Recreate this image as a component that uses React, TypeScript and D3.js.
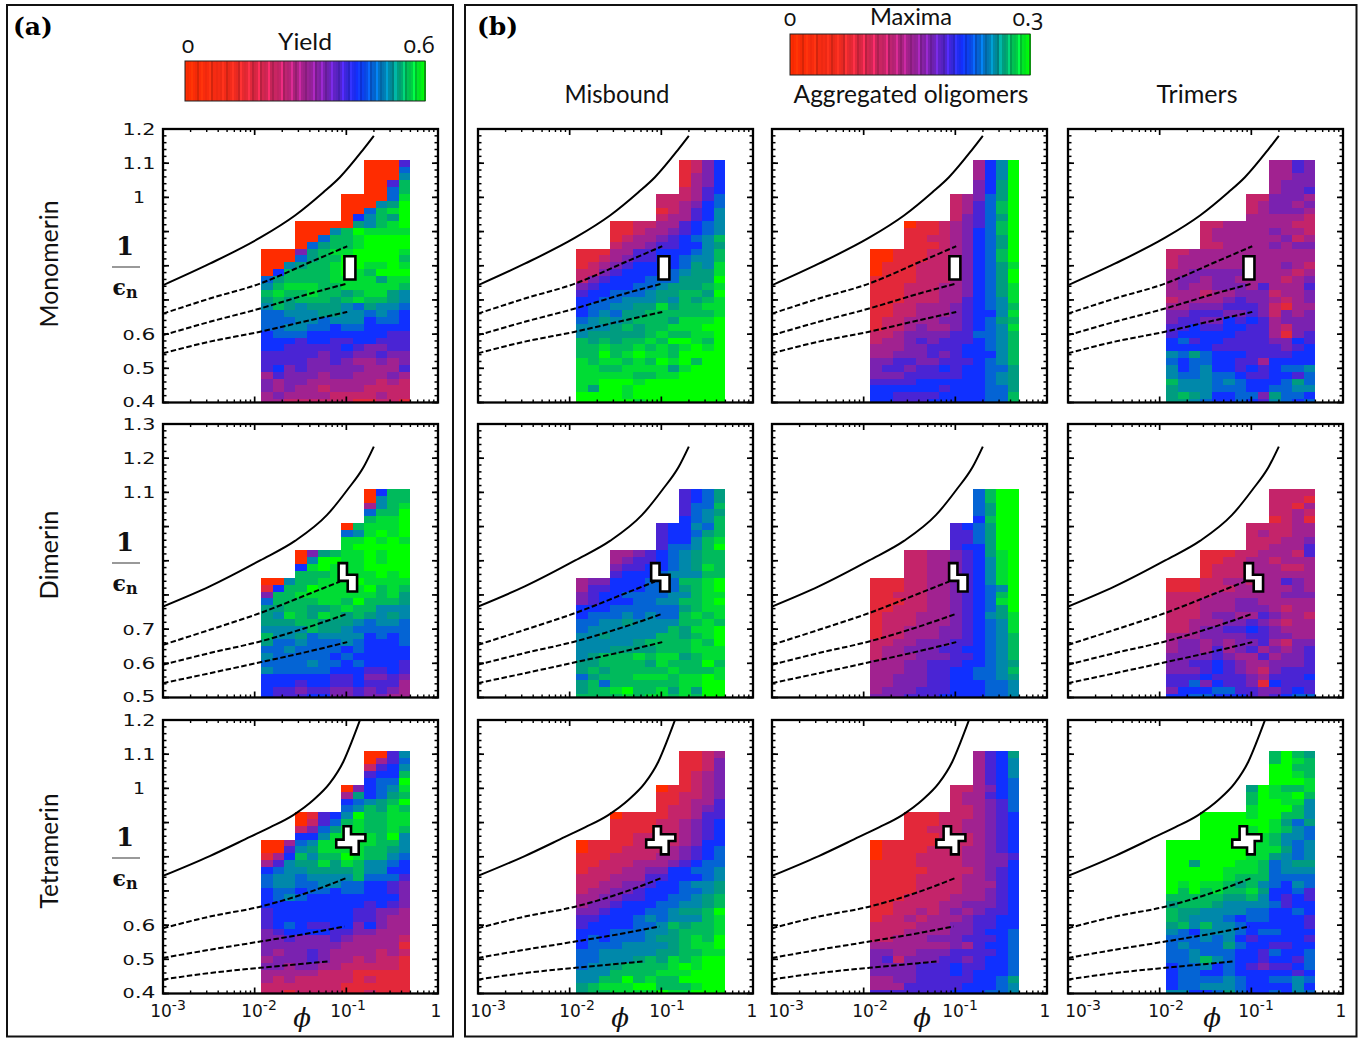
import React from "react";
import * as d3 from "d3";

// ---------- heat-map levels (0 red ... c green), rows top to bottom, '.' = no data
const yieldMono = [
".........0005",".........0007",".........0008",".........005a",".........007a",
".......00007b",".......00089c",".......007abc",".......068a9c",
"...0000098abc","...0008acbbbb","...007aabcccc","...079aabcccc",
"00049abbccccb","00079aaccccca","0089aabccbbcb","06aaaabcbaccc","79aaaabbbb9bb","8abbbaabbbbba",
"abaabaa9abb98","9a9aaa9abaa98","8a98999879887","7788899887876","7778878886776","7788776776666",
"6777666666655","6665665566555","6655555654455","5555545544544","5555445433434","5645444443335",
"3544434433343","4344333333232","4343323332222","3433332222322","3322222211221"];
const yieldDi = [
".........06aa",".........08aa",".........38ab",".........7aac",".........abbc",
".......0abbbc",".......78bcbc",".......bbcbcb",".......bccccc",
"...049abbcbcc","...08ccbbcbcc","...6bcbbbcccc","...aaabbbbcbc",
"008aabbbcbbbb","16aacbbbbcaba","4aabbbbbbbab9","7aaaabbacaaa9","99aa99abaa888","98ba9ba9a9898",
"999aa99987887","8888a99877777","a889788886767","9778777876667","7787777676666","8777776766666",
"7777877676665","8777776665565","6666665564454","6665665565553","6554554454543","6555664454433"];
const yieldTetra = [
".........0058",".........0357",".........2568",".........566a",".........677c",
".......04678b",".......39679a",".......6789ac",".......78a9ba",
"...01568caabb","...0257abaabb","...2479bbaaba","...668bbbbac8",
"00378bbbbbaa8","00589bbbbaa98","136a8aacbaa87","35899b9ba8876","67889999a8866","78878888a7775",
"7887788776654","6776776776654","6787666666664","6666666665654","5666666655443","5666666655433",
"5676556646433","4566665544333","4454445433332","4444444333331","4344543333232","3444543323221",
"4434433222221","3333322211111","3232222212111","2222222111111","2212222112111"];
const misMono = [
".........1246",".........1246",".........1346",".........1346",".........2356",
".......222357",".......223467",".......123568",".......233568",
"...1122335678","...1123345678","...123345678a","...2334556689",
"111335566678a","112345566788a","123456666798b","224566667899b","245666777999c","45666778999ab",
"566777899aa9c","667788898a9ab","6778899b9aabb","678799aaaaaab","78989aaa9bbbc","8889a9aabbbcc",
"899999abaabbc","a9a9aabaccbac","aabaabababcbc","aacabcbbacccc","babbabacbcacc","bbaabbbb9bccc",
"bbbbbaabbcccc","bbcccbccccccc","b9ccbcccccccc","ccccbcccccccc","cccccbccccccc"];
const misDi = [
".........5679",".........5679",".........577a",".........5789",".........678a",
".......56687a",".......56679a",".......5668ab",".......5778ac",
"...33456789aa","...34556789aa","...45566789ba","...56667888aa",
"344666777aabc","3556667779abc","4566777788abb","456667788aabc","6667777779abb","677787877abab",
"778898888aaba","78888888a9bbc","8898888aa9abc","888889aaaabac","8889999aaabbb","89aaababb9abb",
"99aaaa9baaaca","9a9aaaaabaaab","79aaabbbabbcb","9a7aaaaaabbcc","9aabcaab9b9cc","aaaababbabacc"];
const misTetra = [
".........1123",".........1124",".........1124",".........1234",".........1234",
".......011234",".......112234",".......112335",".......122345",
"...0111122355","...1111223456","...1111223456","...1122223456",
"0111122223466","0111222234567","1112222334567","1122233345677","1222334466778","2223335566678",
"2233445667889","2334456667789","334455667789a","344566677889a","44566677899ac","55666787888ab",
"56666778a9aab","666777889aaab","676777899abac","677788889abbc","778888899aabb","778889a9babcc",
"7889aaaabcbcc","888aaaabbbccc","88aacabaacccc","9abbbccaaabcc","9aabbbbcbbccc"];
const aggMono = [
".........368c",".........368c",".........368c",".........469c",".........469c",
".......23479c",".......2357ac",".......2357ac",".......24579c",
"...01123457ac","...11123467ac","...112234679c","...111234679c",
"00111223467ac","00111223467ac","011122234679b","011122234679c","111122234679c","111222334679b",
"111222334679b","111222335678b","112233345678a","112233345668b","122333445679a","122343345678b",
"223444455778a","233454555678a","333445556678a","334445456668a","445544555678a","4554556566779",
"4445555566789","5555666666789","6666665666779","665555666677a","665556666677a"];
const aggDi = [
".........7acc",".........7acc",".........79cc",".........79cc",".........6acc",
".......5679cc",".......5579cc",".......5579cc",".......5669cc",
"...22334569bc","...22334568bc","...22334568bc","...22334568bc",
"11122334568bc","111223345678c","11222334567ac","11122334567bc","112223345679c","122233345689b",
"122233345678b","122333445678b","122333445678a","223344455678a","233444556678a","233344455678a",
"3334455566789","333445566778a","3344455667789","3344455666778","3444555666778","4445556666778"];
const aggTetra = [
".........3569",".........3568",".........3568",".........3568",".........3567",
".......223467",".......233567",".......233457",".......223457",
"...1112223456","...1112233456","...1122233456","...1112223456",
"0111112223456","0111122233456","0111222233445","1111222233446","1111122223456","1111222233456",
"1111222233356","1111222233456","1112222333456","1122223344456","1122323434556","1223233345566",
"2222333445566","2223333445667","2233344455567","3333333435667","4433444555567","4524445545667",
"4444555655667","4444555656667","3344555556679","3335555566678","5555555666778"];
const triMono = [
".........3354",".........3354",".........3344",".........3444",".........3445",
".......224443",".......234434",".......234443",".......333332",
"...2233333322","...2333334332","...2333333423","...2233334344",
"2233333333333","2333333333333","2333333333432","3344444333323","3443443333234","3433444353335",
"3332334442334","2333345443234","3344455542133","4455544542434","4554465653444","5565566553244",
"5666665553145","6756655554465","6666555555456","8797666555566","7677665536666","8678665656778",
"8778776556657","a888787666797","9888777667788","9a98667749776","9987667658767"];
const triDi = [
".........2222",".........2221",".........2213",".........2232",".........1231",
".......222233",".......232233",".......222334",".......223335",
"...1112233325","...1122332333","...1222333223","...1222333333",
"1112233233543","1112223333343","2222333333444","2223334433333","2223334443233","2223443354332",
"2233344543233","2234455654333","3334444554433","3443434453244","3443534534345","4444543353445",
"4455654334445","4445654324555","5556555435556","5574655416555","4666775544565","6677666545677"];
const triTetra = [
".........aca9",".........acba",".........ccaa",".........ccba",".........cccb",
".......9cbaab",".......acbbca",".......accbb8",".......bccca8",
"...ccccbccaa8","...ccccccb979","...ccccbcba87","...ccccbba887",
"cccccccbba878","cccccccbbb978","cccccccbb9878","cc9cccbba7899","cccccbbba7888","cccccbaaa7777",
"cbcbba9a87687","cacabaab96675","aaaaa99a86565","9aaa988887566","a998888776676","a98887677 6665".replace(" ",""),
"9a8a887666665","8768887677666","7778786566665","7877797665566","7787776657667","778a876656657",
"6778676545567","6776676666656","6777787667787","6778887666686","8866797667687"];

const yieldRows = [yieldMono, yieldDi, yieldTetra];
const misboundRows = [misMono, misDi, misTetra];
const aggRows = [aggMono, aggDi, aggTetra];
const trimerRows = [triMono, triDi, triTetra];

const rowTitles = ["Monomerin", "Dimerin", "Tetramerin"];
const rowTitleLengths = [127, 89, 115];
const rowTitleCentres = [264, 555, 851];
const colTitles = ["Misbound", "Aggregated oligomers", "Trimers"];
const colTitleLengths = [105, 235, 81];
const colTitleCentres = [617, 911, 1197];

// 1/epsilon axis
const yDomains: [number, number][] = [[0.4, 1.2], [0.5, 1.3], [0.4, 1.2]];
const yLabels = [
  ["1.2", "1.1", "1", "0.6", "0.5", "0.4"],
  ["1.3", "1.2", "1.1", "0.7", "0.6", "0.5"],
  ["1.2", "1.1", "1", "0.6", "0.5", "0.4"],
];
const xTickExps = [-3, -2, -1, 0];
const firstRowCentre = 1.1;
const rowStep = 0.02;
const firstColExp = -1.93;
const colStepExp = 0.125;

// curves: [log10 phi, 1/eps]
const solidCurves = [
  [[-3,.743],[-2.49,.806],[-1.94,.882],[-1.56,.947],[-1.25,1.015],[-1.07,1.059],[-.81,1.142],[-.70,1.18]],
  [[-3,.766],[-2.49,.825],[-1.94,.901],[-1.56,.958],[-1.21,1.034],[-.99,1.107],[-.81,1.175],[-.70,1.234]],
  [[-3,.744],[-2.49,.802],[-2.051,.858],[-1.833,.886],[-1.579,.922],[-1.36,.966],[-1.178,1.016],[-1.033,1.078],[-.942,1.136],[-.851,1.2]],
];
const dashedCurves = [
  [[[-3,.66],[-2.49,.704],[-1.94,.748],[-1.39,.811],[-.99,.857]],
   [[-3,.597],[-2.49,.636],[-1.94,.675],[-1.39,.719],[-.99,.748]],
   [[-3,.544],[-2.49,.578],[-1.94,.607],[-1.39,.641],[-.99,.665]]],
  [[[-3,.654],[-2.49,.698],[-1.94,.747],[-1.39,.805],[-1.07,.839]],
   [[-3,.596],[-2.49,.63],[-1.94,.664],[-1.39,.708],[-.99,.745]],
   [[-3,.542],[-2.49,.571],[-1.94,.603],[-1.39,.636],[-.99,.662]]],
  [[[-3,.591],[-2.49,.625],[-1.94,.654],[-1.39,.698],[-.99,.739]],
   [[-3,.504],[-2.49,.528],[-1.94,.552],[-1.39,.577],[-1.02,.596]],
   [[-3,.441],[-2.49,.46],[-1.94,.475],[-1.39,.489],[-1.19,.494]]],
];
const obstacleShapes = [
  [[-1.01,.828],[-.89,.828],[-.89,.76],[-1.01,.76]],
  [[-1.084,.893],[-.993,.893],[-.993,.859],[-.883,.859],[-.883,.81],[-.985,.81],[-.985,.841],[-1.084,.841]],
  [[-1.03,.889],[-.949,.889],[-.949,.866],[-.792,.866],[-.792,.846],[-.865,.846],[-.865,.807],[-.949,.807],[-.949,.827],[-1.11,.827],[-1.11,.85],[-1.03,.85]],
];
// horizontal offset of the obstacle in each panel, log10 phi
const obstacleShift = [
  [-.011, -.022, -.055, -.076],
  [0, -.027, .016, .011],
  [0, -.055, -.098, -.098],
];

// Colour map
const levelChars = "0123456789abc";
const levelColours = ["#ff2c00","#e3283a","#c4246a","#a12290","#7a22b0","#4a24d4","#1030ff","#0464d4","#0088aa","#009c80","#00ba5c","#00dc34","#00ff00"];
const levelScale = d3.scaleLinear<string>().domain(levelColours.map((_, i) => i)).range(levelColours).interpolate(d3.interpolateRgb);
const barStops = [0, .2, .4, .5, .6, .72, .85, .92, 1];
const barLevels = [0, .5, 2, 3, 4.2, 6, 8, 10, 12];
const barLevel = d3.scaleLinear().domain(barStops).range(barLevels);
const barShade = "1213120131213012123102131203121310213012132012130121320131201213012310213120131203121301213012310213120312130121301213";

// Layout
const rowsTop = [129, 424, 720];
const panelH = 273.5;
const panelW = 275;
const colsLeft = [163, 478, 772, 1068];
const xLabelCentres = [[168,259,348,436],[488,577,667,752],[786,870,960,1045],[1083,1166,1256,1341]];
const phiX = [302, 620, 922, 1212];
const serifFont = "'DejaVu Serif', serif";
const tickFont = "'DejaVu Sans', sans-serif";
const barFont = "'Open Sans', sans-serif";
const titleFont = "Lato, sans-serif";

function TickText({ t }: { t: string }) {
  return t[0] === "0" ? <><tspan fontSize={14}>0</tspan>{t.slice(1)}</> : <>{t}</>;
}

function Panel({ left, top, row, rows, labelX, labelY, col }: any) {
  const x = d3.scaleLog().domain([1e-3, 1]).range([left, left + panelW]);
  const y = d3.scaleLinear().domain(yDomains[row]).range([top + panelH, top]);
  const xe = (e: number) => x(Math.pow(10, e));
  const line = d3.line<number[]>().x(d => xe(d[0])).y(d => y(d[1])).curve(d3.curveMonotoneX);
  const clip = `clip-${row}-${col}`;
  const [lo, hi] = yDomains[row];
  const yMajors = d3.range(Math.round((hi - lo) / 0.1) + 1).map(i => lo + i * 0.1);
  const yMinors = d3.range(Math.round((hi - lo) / 0.02) + 1).map(i => lo + i * 0.02);
  const xMinors: number[] = [];
  [1e-3, 1e-2, 1e-1].forEach(d => d3.range(2, 10).forEach(m => xMinors.push(d * m)));
  const tick = (k: string, x1: number, y1: number, x2: number, y2: number, w: number) => (
    <line key={k} x1={x1} y1={y1} x2={x2} y2={y2} stroke="#000" strokeWidth={w} />
  );
  const shift = obstacleShift[row][col];
  return (
    <g>
      <clipPath id={clip}><rect x={left} y={top} width={panelW} height={panelH} /></clipPath>
      <g clipPath={`url(#${clip})`} shapeRendering="crispEdges">
        {rows.flatMap((r: string, i: number) =>
          r.split("").map((ch: string, j: number) => {
            if (ch === ".") return null;
            const x0 = xe(firstColExp + j * colStepExp);
            const x1 = xe(firstColExp + (j + 1) * colStepExp);
            const c = firstRowCentre - i * rowStep;
            const y0 = y(c + rowStep / 2);
            const y1 = y(c - rowStep / 2);
            return <rect key={`${i}-${j}`} x={x0} y={y0} width={x1 - x0 + 0.3} height={y1 - y0 + 0.3} fill={levelScale(levelChars.indexOf(ch))} />;
          })
        )}
      </g>
      <path d={line(solidCurves[row] as any) || ""} fill="none" stroke="#000" strokeWidth={2} clipPath={`url(#${clip})`} />
      {dashedCurves[row].map((c: any, i: number) => (
        <path key={i} d={line(c) || ""} fill="none" stroke="#000" strokeWidth={2} strokeDasharray="5.5 2.5" />
      ))}
      <path d={d3.line<number[]>().x(d => xe(d[0] + shift)).y(d => y(d[1]))(obstacleShapes[row] as any) + "Z"} fill="#fff" stroke="#000" strokeWidth={2.6} strokeLinejoin="miter" />
      {yMinors.flatMap((v, i) => [tick(`yl${i}`, left, y(v), left + 3.5, y(v), 1.5), tick(`yr${i}`, left + panelW, y(v), left + panelW - 3.5, y(v), 1.5)])}
      {yMajors.flatMap((v, i) => [tick(`yL${i}`, left, y(v), left + 6, y(v), 1.7), tick(`yR${i}`, left + panelW, y(v), left + panelW - 6, y(v), 1.7)])}
      {xMinors.flatMap((v, i) => [tick(`xb${i}`, x(v), top + panelH, x(v), top + panelH - 3, 1.4), tick(`xt${i}`, x(v), top, x(v), top + 3, 1.4)])}
      {xTickExps.flatMap((e, i) => [tick(`xB${i}`, xe(e), top + panelH, xe(e), top + panelH - 6, 1.7), tick(`xT${i}`, xe(e), top, xe(e), top + 6, 1.7)])}
      <rect x={left} y={top} width={panelW} height={panelH} fill="none" stroke="#000" strokeWidth={2.3} />
      {labelY && yLabels[row].map(t => (
        <text key={t} x={139} y={y(+t) + 6 - (+t === lo ? 2 : 0)} textAnchor="middle" fontFamily={tickFont} fontSize={16}
          textLength={t.length > 1 ? 33 : 12} lengthAdjust="spacingAndGlyphs" fill="#111"><TickText t={t} /></text>
      ))}
      {labelX && xTickExps.map((e, i) => (
        <text key={e} x={xLabelCentres[col][i]} y={top + panelH + 23} textAnchor="middle" fontFamily={tickFont} fontSize={17} fill="#111">
          {e === 0 ? "1" : <>10<tspan fontSize={14} dy={-7}>{String(e)}</tspan></>}
        </text>
      ))}
      {labelX && <text x={phiX[col]} y={top + panelH + 33} textAnchor="middle" fontFamily={serifFont} fontStyle="italic" fontSize={26} fill="#111">ϕ</text>}
    </g>
  );
}

function ColourBar({ x0, y0, x1, y1, lo, hi, title, titleY, titleX, titleLen, labelY, loX, hiX }: any) {
  const n = barShade.length;
  const px = d3.scaleLinear().domain([0, n]).range([x0, x1]);
  return (
    <g>
      <g shapeRendering="crispEdges">
        {d3.range(n).map(i => {
          const c = d3.rgb(levelScale(barLevel((i + 0.5) / n)));
          const s = +barShade[i];
          return <rect key={i} x={px(i)} y={y0} width={px(i + 1) - px(i) + 0.5} height={y1 - y0}
            fill={(s === 3 ? c.brighter(0.55) : s === 0 ? c.darker(0.45) : s === 2 ? c.darker(0.1) : c).formatRgb()} />;
        })}
      </g>
      <rect x={x0} y={y0} width={x1 - x0} height={y1 - y0} fill="none" stroke="#222" strokeWidth={1} />
      <text x={loX} y={labelY} textAnchor="middle" fontFamily={barFont} fontSize={23} style={{ fontVariantNumeric: "oldstyle-nums" }} fill="#111">{lo}</text>
      <text x={hiX} y={labelY} textAnchor="middle" fontFamily={barFont} fontSize={23} style={{ fontVariantNumeric: "oldstyle-nums" }} fill="#111">{hi}</text>
      <text x={titleX} y={titleY} textAnchor="middle" fontFamily={titleFont} fontSize={24} textLength={titleLen} lengthAdjust="spacingAndGlyphs" fill="#111">{title}</text>
    </g>
  );
}

export default function App() {
  const columns = [yieldRows, misboundRows, aggRows, trimerRows];
  return (
    <svg width={1362} height={1038} viewBox="0 0 1362 1038" style={{ position: "absolute", left: 0, top: 0, background: "#fff" }}>
      <rect x={7} y={5} width={446} height={1031.5} fill="none" stroke="#111" strokeWidth={2} />
      <rect x={465} y={5} width={891.5} height={1031.5} fill="none" stroke="#111" strokeWidth={2} />
      <text x={13} y={35} fontFamily={serifFont} fontWeight="bold" fontSize={25} fill="#000">(a)</text>
      <text x={477} y={35} fontFamily={serifFont} fontWeight="bold" fontSize={25} fill="#000">(b)</text>
      <ColourBar x0={185} x1={425} y0={61} y1={101} lo="0" hi="0.6" title="Yield" titleX={305} titleY={50} titleLen={54} labelY={53} loX={188} hiX={419} />
      <ColourBar x0={790} x1={1030} y0={34} y1={75} lo="0" hi="0.3" title="Maxima" titleX={911} titleY={25} titleLen={82} labelY={26} loX={790} hiX={1028} />
      {colTitles.map((t, i) => (
        <text key={t} x={colTitleCentres[i]} y={103} textAnchor="middle" fontFamily={titleFont} fontSize={25} textLength={colTitleLengths[i]} lengthAdjust="spacingAndGlyphs" fill="#111">{t}</text>
      ))}
      {rowTitles.map((t, i) => (
        <text key={t} transform={`translate(58,${rowTitleCentres[i]}) rotate(-90)`} textAnchor="middle" fontFamily={titleFont} fontSize={25} textLength={rowTitleLengths[i]} lengthAdjust="spacingAndGlyphs" fill="#111">{t}</text>
      ))}
      {rowsTop.map((top, i) => {
        const cy = rowTitleCentres[i] + (i === 1 ? 8 : i === 0 ? 3 : 7);
        return (
          <g key={i} fill="#111">
            <text x={125} y={cy - 12} textAnchor="middle" fontFamily={serifFont} fontSize={26} fontWeight="bold">1</text>
            <line x1={112} x2={140} y1={cy} y2={cy} stroke="#777" strokeWidth={1.5} />
            <text x={125} y={cy + 28} textAnchor="middle" fontFamily={serifFont} fontSize={22} fontWeight="bold">
              ϵ<tspan fontSize={16} dy={3}>n</tspan>
            </text>
          </g>
        );
      })}
      {columns.map((rowsByPanel, c) =>
        rowsByPanel.map((rows: string[], r: number) => (
          <Panel key={`${r}-${c}`} left={colsLeft[c]} top={rowsTop[r]} row={r} col={c} rows={rows} labelX={r === 2} labelY={c === 0} />
        ))
      )}
    </svg>
  );
}
